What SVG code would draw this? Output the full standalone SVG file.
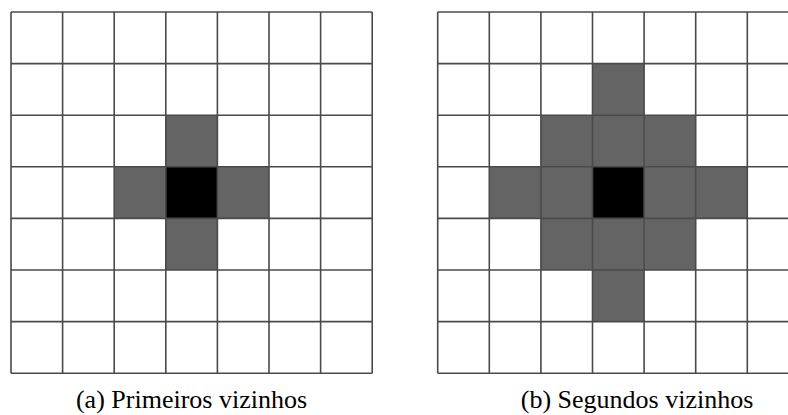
<svg xmlns="http://www.w3.org/2000/svg" width="788" height="415" viewBox="0 0 788 415">
  <defs>
    <style>
      .nb { fill: #646464; }
      .ctr { fill: #000000; }
      .grid line { stroke: #4a4a4a; stroke-width: 1.6; }
      .cap { font-family: "Liberation Serif", "Times New Roman", serif; font-size: 26px; fill: #000; text-anchor: middle; }
    </style>
  </defs>
  <rect width="788" height="415" fill="#ffffff"/>

  <!-- (a) first neighbours: 7x7 lattice, cell 51.6 px -->
  <g id="panel-a">
    <g id="cells-a">
      <rect class="nb" x="165.8" y="115.2" width="51.6" height="51.6"/>
      <rect class="nb" x="114.2" y="166.8" width="51.6" height="51.6"/>
      <rect class="nb" x="217.4" y="166.8" width="51.6" height="51.6"/>
      <rect class="nb" x="165.8" y="218.4" width="51.6" height="51.6"/>
      <rect class="ctr" x="165.8" y="166.8" width="51.6" height="51.6"/>
    </g>
    <g class="grid" id="grid-a">
      <line x1="11" y1="12" x2="11" y2="373.2"/>
      <line x1="62.6" y1="12" x2="62.6" y2="373.2"/>
      <line x1="114.2" y1="12" x2="114.2" y2="373.2"/>
      <line x1="165.8" y1="12" x2="165.8" y2="373.2"/>
      <line x1="217.4" y1="12" x2="217.4" y2="373.2"/>
      <line x1="269" y1="12" x2="269" y2="373.2"/>
      <line x1="320.6" y1="12" x2="320.6" y2="373.2"/>
      <line x1="372.2" y1="12" x2="372.2" y2="373.2"/>
      <line x1="11" y1="12" x2="372.2" y2="12"/>
      <line x1="11" y1="63.6" x2="372.2" y2="63.6"/>
      <line x1="11" y1="115.2" x2="372.2" y2="115.2"/>
      <line x1="11" y1="166.8" x2="372.2" y2="166.8"/>
      <line x1="11" y1="218.4" x2="372.2" y2="218.4"/>
      <line x1="11" y1="270" x2="372.2" y2="270"/>
      <line x1="11" y1="321.6" x2="372.2" y2="321.6"/>
      <line x1="11" y1="373.2" x2="372.2" y2="373.2"/>
    </g>
    <text class="cap" x="191.5" y="408">(a) Primeiros vizinhos</text>
  </g>

  <!-- (b) second neighbours: same lattice shifted right -->
  <g id="panel-b">
    <g id="cells-b">
      <rect class="nb" x="592.5" y="63.6" width="51.6" height="51.6"/>
      <rect class="nb" x="540.9" y="115.2" width="51.6" height="51.6"/>
      <rect class="nb" x="592.5" y="115.2" width="51.6" height="51.6"/>
      <rect class="nb" x="644.1" y="115.2" width="51.6" height="51.6"/>
      <rect class="nb" x="489.3" y="166.8" width="51.6" height="51.6"/>
      <rect class="nb" x="540.9" y="166.8" width="51.6" height="51.6"/>
      <rect class="nb" x="644.1" y="166.8" width="51.6" height="51.6"/>
      <rect class="nb" x="695.7" y="166.8" width="51.6" height="51.6"/>
      <rect class="nb" x="540.9" y="218.4" width="51.6" height="51.6"/>
      <rect class="nb" x="592.5" y="218.4" width="51.6" height="51.6"/>
      <rect class="nb" x="644.1" y="218.4" width="51.6" height="51.6"/>
      <rect class="nb" x="592.5" y="270" width="51.6" height="51.6"/>
      <rect class="ctr" x="592.5" y="166.8" width="51.6" height="51.6"/>
    </g>
    <g class="grid" id="grid-b">
      <line x1="437.7" y1="12" x2="437.7" y2="373.2"/>
      <line x1="489.3" y1="12" x2="489.3" y2="373.2"/>
      <line x1="540.9" y1="12" x2="540.9" y2="373.2"/>
      <line x1="592.5" y1="12" x2="592.5" y2="373.2"/>
      <line x1="644.1" y1="12" x2="644.1" y2="373.2"/>
      <line x1="695.7" y1="12" x2="695.7" y2="373.2"/>
      <line x1="747.3" y1="12" x2="747.3" y2="373.2"/>
      <line x1="798.9" y1="12" x2="798.9" y2="373.2"/>
      <line x1="437.7" y1="12" x2="798.9" y2="12"/>
      <line x1="437.7" y1="63.6" x2="798.9" y2="63.6"/>
      <line x1="437.7" y1="115.2" x2="798.9" y2="115.2"/>
      <line x1="437.7" y1="166.8" x2="798.9" y2="166.8"/>
      <line x1="437.7" y1="218.4" x2="798.9" y2="218.4"/>
      <line x1="437.7" y1="270" x2="798.9" y2="270"/>
      <line x1="437.7" y1="321.6" x2="798.9" y2="321.6"/>
      <line x1="437.7" y1="373.2" x2="798.9" y2="373.2"/>
    </g>
    <text class="cap" x="637" y="408">(b) Segundos vizinhos</text>
  </g>
</svg>
